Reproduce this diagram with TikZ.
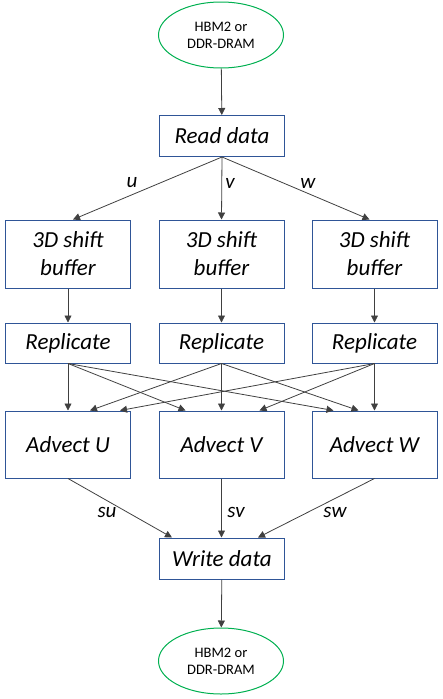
\documentclass[tikz,border=0pt]{standalone}
\usepackage{fontspec}
\setmainfont{Carlito}
\usetikzlibrary{arrows.meta,shapes.geometric}
\definecolor{boxblue}{HTML}{2F5597}
\definecolor{memgreen}{HTML}{00B050}
\definecolor{linegray}{HTML}{404040}

\tikzset{
  stage/.style={rectangle, draw=boxblue, line width=1pt, minimum width=125pt, inner sep=0pt, align=center, font=\fontsize{23}{28}\selectfont\itshape},
  mem/.style={ellipse, draw=memgreen, line width=1pt, minimum width=125pt, minimum height=66pt, inner sep=0pt, align=center, font=\fontsize{14.5}{17}\selectfont},
  lbl/.style={font=\fontsize{21}{24}\selectfont\itshape, inner sep=0pt},
  flow/.style={draw=linegray, line width=0.8pt, -{Triangle[width=7pt,length=7pt]}}
}

\begin{document}
\begin{tikzpicture}[x=1pt, y=-1pt]
\useasboundingbox (0,0) rectangle (443,699);
				\node[mem] (src) at (221,35) {HBM2 or\\DDR-DRAM};
				\node[stage, minimum height=41pt] (read) at (222,136) {Read data};

				\node[stage, minimum height=68pt] (su) at (68,254) {3D shift\\buffer};
				\node[stage, minimum height=68pt] (sv) at (221.5,254) {3D shift\\buffer};
				\node[stage, minimum height=68pt] (sw) at (374.5,254) {3D shift\\buffer};

				\node[stage, minimum height=40pt] (ru) at (68,343) {Replicate};
				\node[stage, minimum height=40pt] (rv) at (221.5,343) {Replicate};
				\node[stage, minimum height=40pt] (rw) at (374.5,343) {Replicate};

				\node[stage, minimum height=67pt] (au) at (68,444.5) {Advect U};
				\node[stage, minimum height=67pt] (av) at (221.5,444.5) {Advect V};
				\node[stage, minimum height=67pt] (aw) at (374.5,444.5) {Advect W};

				\node[stage, minimum height=41pt] (write) at (222,558.5) {Write data};
				\node[mem] (dst) at (221,661) {HBM2 or\\DDR-DRAM};

				% labels
				\node[lbl] (lu) at (132,183) {u};
				\node[lbl] (lv) at (230,183) {v};
				\node[lbl] (lw) at (308,183) {w};
				\node[lbl] (lsu) at (107,512) {su};
				\node[lbl] (lsv) at (236,512) {sv};
				\node[lbl] (lsw) at (335,512) {sw};

				\path[flow] (src) -- (read);
				\path[flow] (read.south) -- ([xshift=5pt]su.north);
				\path[flow] (read.south) -- (sv.north);
				\path[flow] (read.south) -- ([xshift=-5pt]sw.north);

				\path[flow] (su) -- (ru);
				\path[flow] (sv) -- (rv);
				\path[flow] (sw) -- (rw);

				\path[flow] (ru.south) -- (au.north);
				\path[flow] (ru.south) -- ([xshift=-36pt]av.north);
				\path[flow] (ru.south) -- ([xshift=-41pt]aw.north);
				\path[flow] (rv.south) -- ([xshift=22pt]au.north);
				\path[flow] (rv.south) -- (av.north);
				\path[flow] (rv.south) -- ([xshift=-16pt]aw.north);
				\path[flow] (rw.south) -- ([xshift=52pt]au.north);
				\path[flow] (rw.south) -- ([xshift=38pt]av.north);
				\path[flow] (rw.south) -- (aw.north);

				\path[flow] (au.south) -- ([xshift=-50pt]write.north);
				\path[flow] (av.south) -- ([xshift=-0.5pt]write.north);
				\path[flow] (aw.south) -- ([xshift=36pt]write.north);
				\path[flow] (write) -- (dst);
\end{tikzpicture}
\end{document}
